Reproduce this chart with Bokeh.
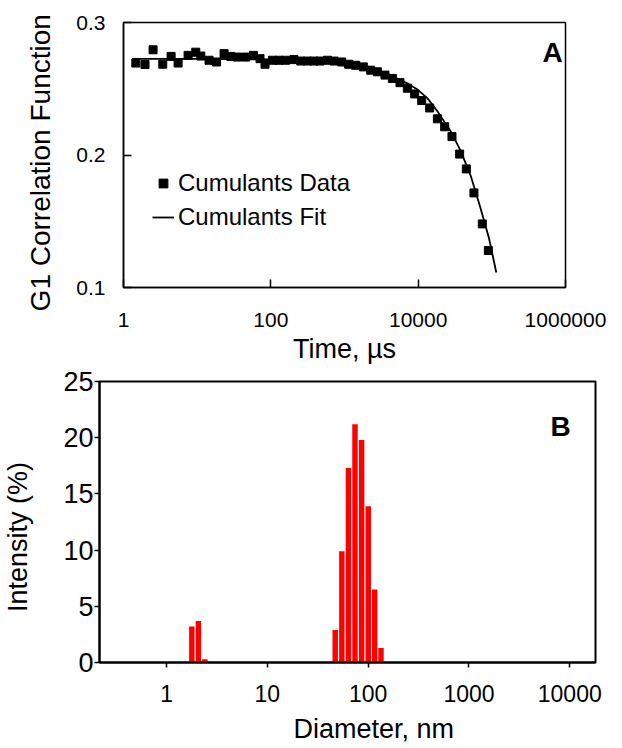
import numpy as np
from bokeh.plotting import figure
from bokeh.layouts import column
from bokeh.models import (FixedTicker, Label, Legend, LegendItem, Range1d,
                          NumeralTickFormatter, ColumnDataSource)
from bokeh.embed import file_html
from bokeh.resources import INLINE

# ---------------- data ----------------
# Panel A: cumulants data (delay time in microseconds, G1)
time_us = [1.47, 1.96, 2.52, 3.41, 4.43, 5.51, 7.53, 9.57, 11.2, 14.5, 18.3,
           23.2, 28.6, 35.2, 45.6, 58.1, 71.3, 83.4, 105, 129, 159, 206, 255,
           314, 386, 465, 586, 721, 916, 1140, 1419, 1805, 2266, 2795, 3546,
           4467, 5663, 7132, 8970, 11160, 14320, 18230, 22900, 28770, 36560,
           45080, 57170, 74300, 89700]
g1_data = [0.2694, 0.2683, 0.2794, 0.2685, 0.2744, 0.2694, 0.2752, 0.2776,
           0.2747, 0.2715, 0.2702, 0.2765, 0.2744, 0.2739, 0.2739, 0.2752,
           0.2727, 0.2685, 0.2715, 0.2715, 0.2715, 0.2720, 0.2709, 0.2709,
           0.2709, 0.2709, 0.2715, 0.2709, 0.2702, 0.2685, 0.2677, 0.2665,
           0.2640, 0.2628, 0.2603, 0.2578, 0.2546, 0.2504, 0.2461, 0.2411,
           0.2355, 0.2273, 0.2213, 0.2139, 0.2007, 0.1895, 0.1714, 0.1480,
           0.1279]
# Panel A: cumulants fit curve
fit_time_us = [1.3, 10, 100, 300, 888, 1500, 2512, 4000, 7130, 10000, 13330,
               18230, 27600, 37740, 51560, 70470, 91350, 115000]
fit_g1 = [0.2725, 0.2725, 0.2722, 0.2716, 0.2709, 0.2690, 0.2653, 0.2607,
          0.2541, 0.2490, 0.2429, 0.2330, 0.2180, 0.2031, 0.1845, 0.1597,
          0.1374, 0.1113]
a_xticks = [1, 100, 10000, 1000000]
a_yticks = [0.1, 0.2, 0.3]

# Panel B: intensity size distribution
diameter_nm = [1.78, 2.07, 2.40, 47.1, 54.8, 63.7, 74.0, 86.1, 100.2, 116.0, 134.0]
intensity_pct = [3.2, 3.7, 0.3, 2.9, 9.9, 17.3, 21.2, 19.8, 13.9, 6.5, 1.3]
b_xticks = [1, 10, 100, 1000, 10000]
b_yticks = [0, 5, 10, 15, 20, 25]

FONT = "Liberation Sans"
BAR_HALF_DEC = 0.027  # half bar width in decades
NB = "\u00a0"

# ---------------- panel A ----------------
p1 = figure(width=620, height=366, x_axis_type="log",
            x_range=Range1d(1, 1e6), y_range=Range1d(0.1, 0.3),
            output_backend="svg", toolbar_location=None,
            min_border_left=123, min_border_right=55,
            min_border_top=22, min_border_bottom=76)
p1.frame_align = False
p1.grid.visible = False
p1.outline_line_color = "black"
p1.outline_line_width = 1.5
p1.outline_line_alpha = 1.0

for ax in (p1.xaxis[0], p1.yaxis[0]):
    ax.axis_line_width = 1.5
    ax.axis_line_color = "black"
    ax.major_tick_in = 8
    ax.major_tick_out = 0
    ax.major_tick_line_width = 1.5
    ax.minor_tick_line_color = None
    ax.major_label_text_font = FONT
    ax.major_label_text_font_size = "21px"
    ax.major_label_text_color = "black"
    ax.axis_label_text_font = FONT
    ax.axis_label_text_font_size = "27px"
    ax.axis_label_text_font_style = "normal"
    ax.axis_label_text_color = "black"

p1.xaxis.ticker = FixedTicker(ticks=a_xticks, minor_ticks=[])
p1.xaxis.formatter = NumeralTickFormatter(format="0")
p1.xaxis.major_label_standoff = 25
p1.xaxis.axis_label = "Time, µs"
p1.xaxis.axis_label_standoff = 4
p1.yaxis.ticker = FixedTicker(ticks=a_yticks, minor_ticks=[])
p1.yaxis.formatter = NumeralTickFormatter(format="0.0")
p1.yaxis.major_label_standoff = 18
p1.yaxis.axis_label = "G1 Correlation Function" + NB * 2
p1.yaxis.axis_label_text_font_size = "28px"
p1.yaxis.axis_label_standoff = 17

src_a = ColumnDataSource(dict(t=time_us, g=g1_data))
src_fit = ColumnDataSource(dict(t=fit_time_us, g=fit_g1))
r_fit = p1.line("t", "g", source=src_fit, line_color="black", line_width=1.8)
r_dat = p1.scatter("t", "g", source=src_a, marker="square", size=8,
                   fill_color="black", line_color="black")

legend = Legend(items=[LegendItem(label="Cumulants Data", renderers=[r_dat]),
                       LegendItem(label="Cumulants Fit", renderers=[r_fit])],
                location=(29, 56), padding=0, margin=0, spacing=6,
                glyph_width=22, glyph_height=28, label_height=28,
                label_standoff=4, border_line_alpha=0,
                background_fill_alpha=0,
                label_text_font=FONT, label_text_font_size="24px",
                label_text_color="black")
p1.add_layout(legend)

p1.add_layout(Label(x=419, y=235, x_units="screen", y_units="screen",
                    text="A", text_align="left", text_baseline="alphabetic",
                    text_font=FONT, text_font_style="bold",
                    text_font_size="28px", text_color="black"))

# ---------------- panel B ----------------
p2 = figure(width=620, height=380, x_axis_type="log",
            x_range=Range1d(0.216, 18000), y_range=Range1d(0, 25),
            output_backend="svg", toolbar_location=None,
            min_border_left=94, min_border_right=25,
            min_border_top=15, min_border_bottom=83)
p2.frame_align = False
p2.grid.visible = False
p2.outline_line_color = "black"
p2.outline_line_width = 2
p2.outline_line_alpha = 1.0

for ax in (p2.xaxis[0], p2.yaxis[0]):
    ax.axis_line_width = 2
    ax.axis_line_color = "black"
    ax.major_tick_in = 0
    ax.major_tick_out = 5
    ax.major_tick_line_width = 1.5
    ax.minor_tick_line_color = None
    ax.major_label_text_font = FONT
    ax.major_label_text_color = "black"
    ax.axis_label_text_font = FONT
    ax.axis_label_text_font_size = "27px"
    ax.axis_label_text_font_style = "normal"
    ax.axis_label_text_color = "black"

p2.xaxis.ticker = FixedTicker(ticks=b_xticks, minor_ticks=[])
p2.xaxis.formatter = NumeralTickFormatter(format="0")
p2.xaxis.major_label_text_font_size = "23px"
p2.xaxis.major_label_standoff = 17
p2.xaxis.axis_label = NB * 7 + "Diameter, nm"
p2.xaxis.axis_label_standoff = 9
p2.yaxis.ticker = FixedTicker(ticks=b_yticks, minor_ticks=[])
p2.yaxis.formatter = NumeralTickFormatter(format="0")
p2.yaxis.major_label_text_font_size = "27px"
p2.yaxis.major_label_standoff = 1
p2.yaxis.axis_label = "Intensity (%)" + NB * 4
p2.yaxis.axis_label_standoff = 27

d = np.array(diameter_nm)
src_b = ColumnDataSource(dict(left=d * 10 ** (-BAR_HALF_DEC),
                              right=d * 10 ** BAR_HALF_DEC,
                              top=intensity_pct))
p2.quad(left="left", right="right", bottom=0, top="top", source=src_b,
        fill_color="#ff0000", line_color=None)

p2.add_layout(Label(x=451, y=236, x_units="screen", y_units="screen",
                    text="B", text_align="left", text_baseline="alphabetic",
                    text_font=FONT, text_font_style="bold",
                    text_font_size="28px", text_color="black"))

layout = column(p1, p2, spacing=0)
open("out.html", "w").write(file_html(layout, INLINE))
